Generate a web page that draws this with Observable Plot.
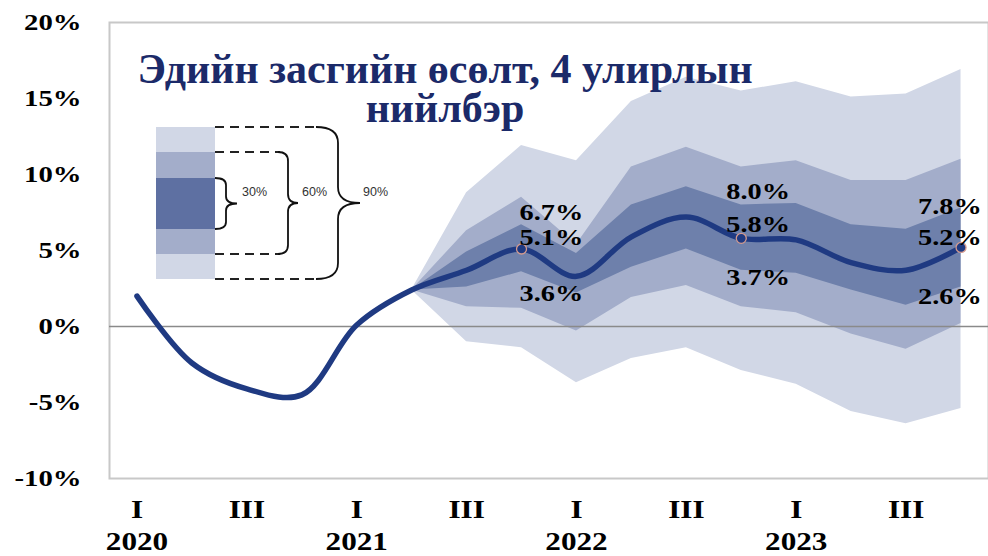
<!DOCTYPE html>
<html><head><meta charset="utf-8">
<script src="https://cdn.jsdelivr.net/npm/d3@7"></script>
<script src="https://cdn.jsdelivr.net/npm/@observablehq/plot@0.6"></script>
<style>
body{margin:0;background:#fff;}
#wrap{position:relative;width:988px;height:556px;overflow:hidden;}
#title{position:absolute;left:0;top:50px;width:890px;text-align:center;font-family:"Liberation Serif",serif;font-weight:bold;color:#1b2a69;font-size:42px;line-height:39px;}
#legend{position:absolute;left:0;top:0;}
</style></head><body>
<div id="wrap"><div id="chart"></div>
<div id="title">Эдийн засгийн өсөлт, 4 улирлын<br>нийлбэр</div>
<svg id="legend" width="988" height="300"></svg>
</div>
<script>
// ---- data ----
const years = [2020, 2021, 2022, 2023];
const quarterNames = ["I", "II", "III", "IV"];
// annual (4-quarter sum) growth, %, 2020Q1 .. 2023Q4
const growth = [2.0, -2.4, -4.1, -4.5, 0.1, 2.4, 3.7, 5.1, 3.3, 5.9, 7.2, 5.8, 5.7, 4.2, 3.7, 5.2];
// forecast fan from 2021Q2 (index 5) to 2023Q4
const fanStart = 5;
const hi90 = [2.4, 8.8, 11.9, 10.9, 14.8, 16.4, 15.5, 16.1, 15.1, 15.3, 16.9];
const hi60 = [2.4, 6.3, 8.5, 5.4, 10.5, 11.8, 10.5, 10.9, 9.6, 9.6, 11.0];
const hi30 = [2.4, 4.9, 6.7, 4.8, 8.0, 9.2, 8.0, 8.1, 6.7, 6.4, 7.8];
const lo30 = [2.4, 2.6, 3.6, 2.2, 3.9, 5.1, 3.7, 3.5, 2.4, 1.4, 2.6];
const lo60 = [2.4, 1.3, 1.2, -0.3, 1.9, 2.7, 1.3, 0.9, -0.5, -1.5, 0.2];
const lo90 = [2.4, -1.0, -1.4, -3.7, -2.1, -1.4, -2.9, -3.8, -5.6, -6.4, -5.4];
const labeledQuarters = [7, 11, 15];
const bandNames = ["30%", "60%", "90%"];
const yTicks = [-10, -5, 0, 5, 10, 15, 20];

// ---- styles ----
const cLight = "#d1d7e6", cMid = "#a3adca", cDark = "#6e80ab", cLine = "#1f3a82";

const series = growth.map((v, i) => ({q: i, v}));
const fan = hi90.map((_, k) => ({q: fanStart + k, hi90: hi90[k], hi60: hi60[k], hi30: hi30[k], lo30: lo30[k], lo60: lo60[k], lo90: lo90[k]}));
const fmt = v => v.toFixed(1) + "%";

// label nudges (layout only)
const nudge = {
  7:  {dx: -2,  hi: -12, mid: -12, lo: 22},
  11: {dx: -15, hi: -14, mid: -14, lo: 7},
  15: {dx: -43, hi: -2,  mid: -10, lo: 9}
};
const labelMarks = [];
for (const q of labeledQuarters) {
  const k = q - fanStart, n = nudge[q];
  const rows = [{v: hi30[k], dy: n.hi}, {v: growth[q], dy: n.mid}, {v: lo30[k], dy: n.lo}];
  for (const r of rows) {
    labelMarks.push(Plot.text([{q, v: r.v}], {x: "q", y: "v", text: d => fmt(d.v), textAnchor: "start", lineAnchor: "middle",
      dx: n.dx, dy: r.dy, fontSize: 24, fontWeight: "bold", fill: "#000"}));
  }
}

const plot = Plot.plot({
  width: 988, height: 556,
  marginLeft: 109, marginRight: 0, marginTop: 22, marginBottom: 78,
  style: {fontFamily: "'Liberation Serif', serif", fontWeight: "bold", color: "#000", background: "#fff"},
  x: {type: "linear", domain: [-0.5, 15.5]},
  y: {domain: [-10, 20]},
  marks: [
    Plot.areaY(fan, {x: "q", y1: "lo90", y2: "hi90", fill: cLight}),
    Plot.areaY(fan, {x: "q", y1: "lo60", y2: "hi60", fill: cMid}),
    Plot.areaY(fan, {x: "q", y1: "lo30", y2: "hi30", fill: cDark}),
    Plot.frame({stroke: "#c8c8c8", strokeWidth: 2}),
    Plot.ruleY([0], {stroke: "#8a8a8a", strokeWidth: 1.5}),
    Plot.line(series, {x: "q", y: "v", curve: "catmull-rom", stroke: cLine, strokeWidth: 5.5}),
    Plot.dot(series.filter(d => labeledQuarters.includes(d.q)), {x: "q", y: "v", r: 5, fill: cLine, stroke: "#d49a8e", strokeWidth: 1.3}),
    ...labelMarks,
    Plot.axisY(yTicks, {tickFormat: d => d + "%", tickSize: 0, tickPadding: 28, fontSize: 23, fontWeight: "bold", label: null}),
    Plot.axisX(d3.range(0, 16, 2), {tickFormat: i => quarterNames[i % 4] + (i % 4 === 0 ? "\n" + years[i / 4] : ""),
      tickSize: 0, tickPadding: 16, fontSize: 26, fontWeight: "bold", lineHeight: 1.25, label: null})
  ]
});
document.getElementById("chart").appendChild(plot);

// horizontal stretch of text to match reference proportions
function stretch(sel, s) {
  plot.querySelectorAll(sel).forEach(t => {
    const tr = t.getAttribute("transform");
    if (tr) t.setAttribute("transform", tr + ` scale(${s},1)`);
    else {
      const x = +t.getAttribute("x") || 0, y = +t.getAttribute("y") || 0;
      t.removeAttribute("x"); t.removeAttribute("y");
      t.setAttribute("transform", `translate(${x},${y}) scale(${s},1)`);
    }
  });
}
stretch('g[aria-label="y-axis tick label"] text', 1.25);
stretch('g[aria-label="x-axis tick label"] text', 1.2);
stretch('g[aria-label="text"] text', 1.18);

// ---- legend key (fan explanation) ----
const L = d3.select("#legend");
const edges = [127, 152, 178, 229, 254, 279];
const legendFills = [cLight, cMid, "#5e70a2", cMid, cLight];
legendFills.forEach((c, i) => L.append("rect").attr("x", 156).attr("y", edges[i]).attr("width", 59).attr("height", edges[i + 1] - edges[i]).attr("fill", c));
function brace(x, y1, y2, w, r) {
  const xm = x + w / 2, ym = (y1 + y2) / 2;
  return `M${x},${y1} Q${xm},${y1} ${xm},${y1 + r} L${xm},${ym - r} Q${xm},${ym} ${x + w},${ym} Q${xm},${ym} ${xm},${ym + r} L${xm},${y2 - r} Q${xm},${y2} ${x},${y2}`;
}
const dash = (x1, x2, y) => L.append("line").attr("x1", x1).attr("x2", x2).attr("y1", y).attr("y2", y)
  .attr("stroke", "#222").attr("stroke-width", 2).attr("stroke-dasharray", "9,6");
dash(215, 280, 152); dash(215, 280, 254);
dash(215, 318, 127); dash(215, 318, 279);
const braces = [[215, 178, 229, 22, 7], [278, 152, 254, 20, 9], [316, 127, 279, 44, 16]];
const labX = [242, 302, 363];
braces.forEach((b, i) => {
  L.append("path").attr("d", brace(...b)).attr("fill", "none").attr("stroke", "#111").attr("stroke-width", 1.8);
  L.append("text").attr("x", labX[i]).attr("y", 196).attr("font-family", "Arial, 'Liberation Sans', sans-serif")
    .attr("font-size", 12.5).attr("fill", "#333").text(bandNames[i]);
});
</script>
</body></html>
